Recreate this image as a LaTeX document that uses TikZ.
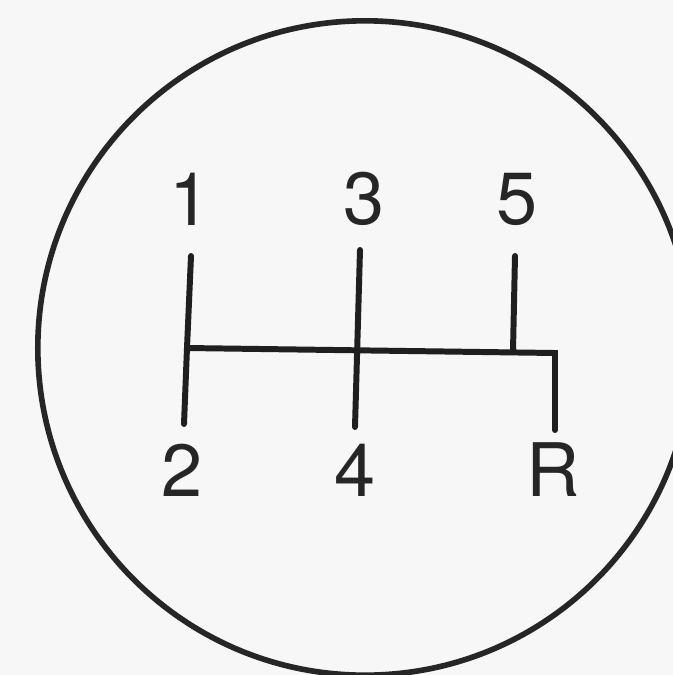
\documentclass[tikz,border=0pt]{standalone}
\usepackage{fontspec}
\setmainfont{TeX Gyre Heros}
\begin{document}
\begin{tikzpicture}[x=0.01cm,y=-0.01cm,
  gearline/.style={line width=1.7pt,line cap=round,line join=miter,color=black!88},
  gearlabel/.style={inner sep=0pt,font=\fontsize{21}{24}\selectfont,text=black!85}]
\fill[black!3] (0,0) rectangle (673,675);
\useasboundingbox (0,0) rectangle (673,675);
\draw[line width=1.6pt,color=black!85] (365,348) circle[radius=3.27cm];
% pattern coordinates
\coordinate (t1) at (191,256);
\coordinate (j1) at (187,348);
\coordinate (b2) at (184,424);
\coordinate (t3) at (360,250);
\coordinate (b4) at (355,427);
\coordinate (t5) at (515,256);
\coordinate (j5) at (513,351);
\coordinate (jr) at (555,353);
\coordinate (br) at (555,430);
\draw[gearline] (t1) -- (j1) -- (b2);
\draw[gearline] (j1) -- (jr) -- (br);
\draw[gearline] (t3) -- (b4);
\draw[gearline] (t5) -- (j5);
% labels
\node[gearlabel] (n1) at (190,199) {1};
\node[gearlabel] (n3) at (364,199) {3};
\node[gearlabel] (n5) at (517,199) {5};
\node[gearlabel] (n2) at (182,470) {2};
\node[gearlabel] (n4) at (355,470) {4};
\node[gearlabel] (nR) at (553,470) {R};
\end{tikzpicture}
\end{document}
